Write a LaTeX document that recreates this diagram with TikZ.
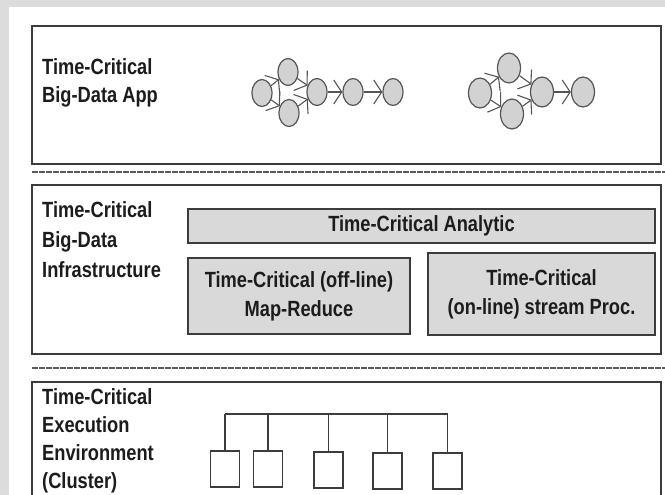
\documentclass[tikz,border=0pt]{standalone}
\usepackage{fontspec}
\setmainfont{Liberation Sans}
\newfontfamily\lblfont{Liberation Sans}[FakeStretch=0.83]
\usetikzlibrary{shapes.geometric,arrows.meta}

\definecolor{edgegray}{HTML}{3C3C3C}
\definecolor{boxfill}{HTML}{D9D9D9}
\definecolor{nodefill}{HTML}{D2D2D2}
\definecolor{nodeline}{HTML}{555555}
\definecolor{pagegray}{HTML}{DCDCDC}
\definecolor{inkgray}{HTML}{1C1C1C}

\tikzset{
  layer/.style={draw=edgegray, line width=1.5pt},
  sepline/.style={draw=edgegray!85, line width=1.4pt, dash pattern=on 6pt off 1pt},
  lbl/.style={font=\lblfont\bfseries\fontsize{22}{#1}\selectfont, align=left,
    anchor=north west, inner sep=0pt, text=inkgray},
  gbox/.style={draw=edgegray, line width=1.4pt, fill=boxfill, inner sep=0pt,
    align=center, text=inkgray, font=\lblfont\bfseries\fontsize{22}{29}\selectfont},
  task/.style={ellipse, draw=nodeline, line width=1.2pt, fill=nodefill, inner sep=0pt,
    minimum width=20pt, minimum height=27pt},
  bigtask/.style={task, minimum width=23pt, minimum height=30pt},
  flow/.style={draw=nodeline, line width=1.1pt,
    -{Straight Barb[length=8pt,width=24pt,line width=1.1pt]}},
  host/.style={draw=edgegray, line width=1.3pt, fill=white, inner sep=0pt,
    minimum width=29pt, minimum height=36pt},
  wire/.style={draw=edgegray, line width=1.2pt}
}

\begin{document}
\begin{tikzpicture}[x=1pt, y=-1pt]
  \useasboundingbox (0,0) rectangle (665,495);
  \clip (0,0) rectangle (665,495);

  % page
  \fill[pagegray] (0,0) rectangle (665,495);
  \fill[white] (9,7) rectangle (665,495);

  % three layers and the separators between them
  \draw[layer] (32,26) rectangle (661,164);
  \draw[sepline] (32,172) -- (665,172);
  \draw[layer] (32,185) rectangle (661,354);
  \draw[sepline] (32,368) -- (665,368);
  \draw[layer] (32,382) rectangle (661,505);

  % layer titles
  \node[lbl=28] (appname) at (42,58) {Time-Critical\\Big-Data App};
  \node[lbl=30] (infraname) at (42,201) {Time-Critical\\Big-Data\\Infrastructure};
  \node[lbl=28] (envname) at (42,388) {Time-Critical\\Execution\\Environment\\(Cluster)};

  % application workflows
  \node[task] (a1) at (262,93) {};
  \node[task] (a2) at (288,72) {};
  \node[task] (a3) at (289,113) {};
  \node[task] (a4) at (317,92) {};
  \node[task] (a5) at (353,92) {};
  \node[task] (a6) at (393,92) {};
  \draw[flow] (a1) -- (a2);
  \draw[flow] (a1) -- (a3);
  \draw[flow] (a2) -- (a4);
  \draw[flow] (a3) -- (a4);
  \draw[flow] (a4) -- (a5);
  \draw[flow] (a5) -- (a6);

  \node[bigtask] (b1) at (480,93) {};
  \node[bigtask] (b2) at (509,68) {};
  \node[bigtask] (b3) at (512,114) {};
  \node[bigtask] (b4) at (542,92) {};
  \node[bigtask] (b5) at (583,92) {};
  \draw[flow] (b1) -- (b2);
  \draw[flow] (b1) -- (b3);
  \draw[flow] (b2) -- (b4);
  \draw[flow] (b3) -- (b4);
  \draw[flow] (b4) -- (b5);

  % infrastructure components
  \node[gbox, minimum width=467pt, minimum height=34pt] (analytic) at (421.5,226)
    {Time-Critical Analytic};
  \node[gbox, minimum width=222pt, minimum height=76pt] (mapred) at (299,296)
    {Time-Critical (off-line)\\Map-Reduce};
  \node[gbox, minimum width=227pt, minimum height=82pt] (stream) at (541.5,294)
    {Time-Critical\\(on-line) stream Proc.};

  % cluster hosts on a shared bus
  \node[host] (h1) at (225,469) {};
  \node[host] (h2) at (268,469) {};
  \node[host] (h3) at (328.5,470) {};
  \node[host] (h4) at (387.5,471) {};
  \node[host] (h5) at (447.5,471) {};
  \coordinate (busL) at (225,414);
  \coordinate (busR) at (447.5,414);
  \draw[wire] (busL) -- (busR);
  \foreach \h in {h1,h2,h3,h4,h5}
    \draw[wire] (\h.north) -- (\h.north |- busL);
\end{tikzpicture}
\end{document}
